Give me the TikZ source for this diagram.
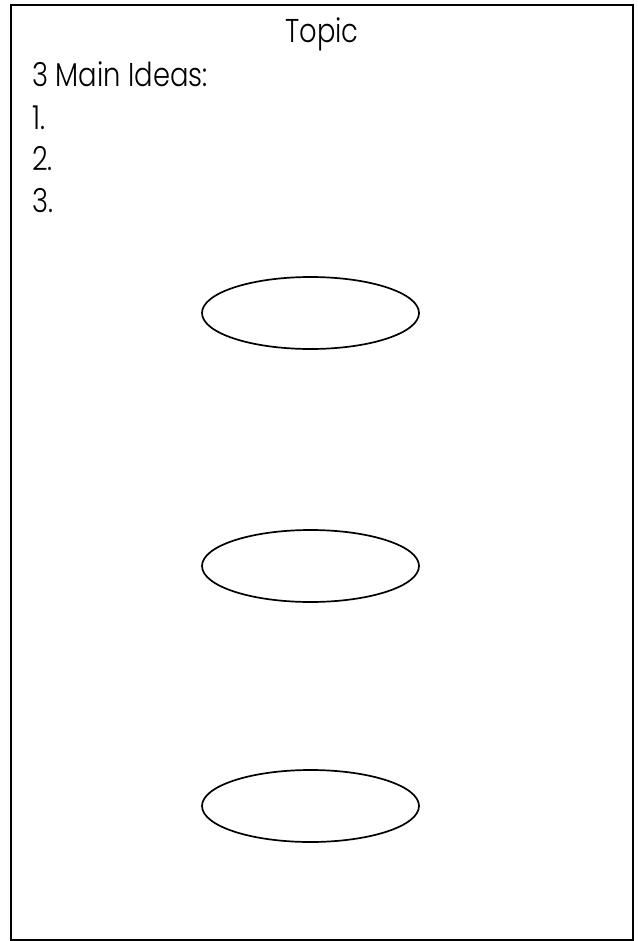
\documentclass[tikz,border=0pt]{standalone}
\usepackage{fontspec}
\IfFontExistsTF{Poppins Light}{\setmainfont{Poppins Light}[FakeStretch=0.83]}{\setmainfont{Poppins}[FakeStretch=0.83]}
\usetikzlibrary{shapes.geometric}
\begin{document}
\begin{tikzpicture}[x=1pt,y=-1pt,
  frame/.style={draw=black,line width=2pt},
  oval/.style={draw=black,line width=1.7pt,ellipse,minimum width=217pt,minimum height=72pt,inner sep=0pt},
  txt/.style={inner sep=0pt,font=\fontsize{33}{40}\selectfont}]
\useasboundingbox (0,0) rectangle (637,941);
\draw[frame] (11,5) rectangle (633,940);
\node[txt,anchor=base] (topic) at (322,43) {Topic};
\node[txt,anchor=base west] (main) at (32,87) {3 Main Ideas:};
\node[txt,anchor=base west] (one) at (32,130) {1.};
\node[txt,anchor=base west] (two) at (32,171) {2.};
\node[txt,anchor=base west] (three) at (32,213) {3.};
\node[oval] (e1) at (310.5,313) {};
\node[oval] (e2) at (310.5,566) {};
\node[oval] (e3) at (310.5,806) {};
\end{tikzpicture}
\end{document}
